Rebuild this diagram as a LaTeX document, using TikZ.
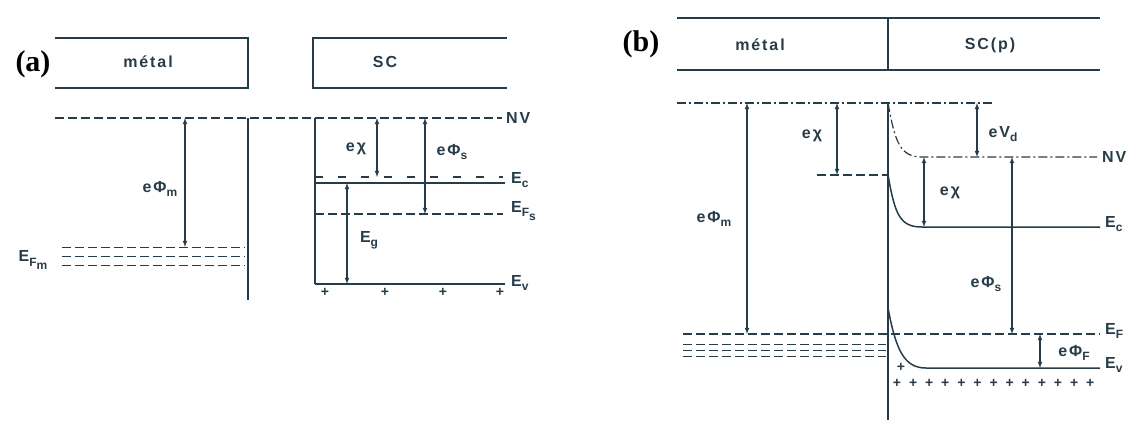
\documentclass[tikz,border=0pt]{standalone}
\usepackage{fontspec}
\setmainfont{Liberation Serif}
\newfontfamily\labfont[LetterSpace=12]{Liberation Sans}
\usetikzlibrary{arrows,positioning}
\definecolor{ink}{RGB}{38,60,72}
\newcommand{\sub}[1]{\raisebox{-.5ex}{\fontsize{12}{13}\selectfont #1}}

\begin{document}
\begin{tikzpicture}[x=1pt,y=-1pt,line width=1.5pt,draw=ink,text=ink,
  font=\labfont\bfseries\fontsize{16}{18}\selectfont,
  lvl/.style={dash pattern=on 9pt off 4pt,line width=1.2pt},
  sparse/.style={dash pattern=on 8pt off 15pt,line width=1.2pt},
  dashdot/.style={dash pattern=on 9pt off 3pt on 2pt off 3pt,line width=1.2pt},
  gap/.style={latex-latex,line width=1.1pt},
  plus/.style={font=\labfont\bfseries\fontsize{14}{14}\selectfont,inner sep=0pt},
  tag/.style={font=\bfseries\rmfamily\fontsize{30}{32}\selectfont,text=black}]
 \useasboundingbox (0,0) rectangle (1133,423);

 %%% (a)
 \node[tag] (taga) at (33,64) {(a)};
 % boxes
 \draw (55,38) -- (248,38) -- (248,88) -- (55,88);
 \draw (507,38) -- (313,38) -- (313,88) -- (507,88);
 \node (meta) at (148,62) {métal};
 \node (sca) at (385,62) {SC};

 % coordinates
 \coordinate (nv0) at (55,118);  \coordinate (nv1) at (502,118);
 \coordinate (ec0) at (315,183); \coordinate (ec1) at (505,183);
 \coordinate (cb0) at (315,177); \coordinate (cb1) at (503,177);
 \coordinate (fs0) at (315,214); \coordinate (fs1) at (503,214);
 \coordinate (ev0) at (315,284); \coordinate (ev1) at (505,284);
 \coordinate (pm0) at (185,118); \coordinate (pm1) at (185,247);
 \coordinate (xa0) at (377,118); \coordinate (xa1) at (377,177);
 \coordinate (ps0) at (425,118); \coordinate (ps1) at (425,214);
 \coordinate (eg0) at (347,183); \coordinate (eg1) at (347,284);

 % levels
 \draw[lvl] (nv0) -- (nv1);
 \draw (248,118) -- (248,300);
 \draw (315,118) -- (ev0);
 \draw[sparse] (cb0) -- (cb1);
 \draw (ec0) -- (ec1);
 \draw[lvl] (fs0) -- (fs1);
 \draw (ev0) -- (ev1);
 \foreach \y in {247,256,265} {
  \draw[lvl,line width=1pt] (62,\y) -- (245,\y);
 }
 \foreach \x in {325,385,443,500} {
  \node[plus] at (\x,292) {+};
 }

 % labels
 \node[right=0pt of nv1] (lnva) {NV};
 \node[right=2pt of ec1,yshift=3pt] (leca) {E\sub{c}};
 \node[right=4pt of fs1,yshift=3pt] (lfsa) {E\sub{F\sub{s}}};
 \node[right=2pt of ev1,yshift=1pt] (leva) {E\sub{v}};
 \node (lfma) at (33,260) {E\sub{F\sub{m}}};

 % arrows
 \draw[gap] (pm0) -- (pm1);
 \draw[gap] (xa0) -- (xa1);
 \draw[gap] (ps0) -- (ps1);
 \draw[gap] (eg0) -- (eg1);
 \node (lpma) at (160,189) {eΦ\sub{m}};
 \node (lxa) at (356,149) {eχ};
 \node (lpsa) at (452,152) {eΦ\sub{s}};
 \node (lega) at (369,240) {E\sub{g}};

 %%% (b)
 \node[tag] (tagb) at (641,44) {(b)};
 \draw (677,18) -- (1100,18);
 \draw[line width=1.2pt] (677,70) -- (1100,70);
 \draw (888,18) -- (888,70);
 \node (metb) at (760,45) {métal};
 \node (scb) at (990,45) {SC(p)};

 % coordinates
 \coordinate (vm0) at (677,103); \coordinate (vm1) at (993,103);
 \coordinate (nvb) at (1097,157);
 \coordinate (ecb) at (1100,227);
 \coordinate (efb0) at (683,334); \coordinate (efb1) at (1100,334);
 \coordinate (evb) at (1100,368);
 \coordinate (bm0) at (747,103);  \coordinate (bm1) at (747,334);
 \coordinate (bx0) at (837,103);  \coordinate (bx1) at (837,175);
 \coordinate (vd0) at (977,103);  \coordinate (vd1) at (977,157);
 \coordinate (cx0) at (924,157);  \coordinate (cx1) at (924,227);
 \coordinate (bs0) at (1012,157); \coordinate (bs1) at (1012,334);
 \coordinate (bf0) at (1040,334); \coordinate (bf1) at (1040,368);

 % levels
 \draw[dashdot] (vm0) -- (vm1);
 \draw (888,103) -- (888,420);
 \draw[dashdot] (888,103) .. controls (895,142) and (900,157) .. (922,157) -- (nvb);
 \draw[lvl] (817,175) -- (888,175);
 \draw (888,175) .. controls (895,215) and (900,227) .. (922,227) -- (ecb);
 \draw (888,308) .. controls (896,350) and (904,368) .. (926,368) -- (evb);
 \draw[lvl] (efb0) -- (efb1);
 \foreach \y in {344,350,356} {
  \draw[lvl,line width=1pt] (683,\y) -- (886,\y);
 }
 \node[plus] at (901,367) {+};
 \foreach \i in {0,...,12} {
  \node[plus] at (897+16.1*\i,383) {+};
 }

 % labels
 \node[right=1pt of nvb] (lnvb) {NV};
 \node[right=1pt of ecb,yshift=3pt] (lecb) {E\sub{c}};
 \node[right=1pt of efb1,yshift=3pt] (lefb) {E\sub{F}};
 \node[right=1pt of evb,yshift=3pt] (levb) {E\sub{v}};

 % arrows
 \draw[gap] (bm0) -- (bm1);
 \draw[gap] (bx0) -- (bx1);
 \draw[gap] (vd0) -- (vd1);
 \draw[gap] (cx0) -- (cx1);
 \draw[gap] (bs0) -- (bs1);
 \draw[gap] (bf0) -- (bf1);
 \node (lpmb) at (714,219) {eΦ\sub{m}};
 \node (lxb1) at (812,136) {eχ};
 \node (lvdb) at (1003,134) {eV\sub{d}};
 \node (lxb2) at (950,193) {eχ};
 \node (lpsb) at (986,284) {eΦ\sub{s}};
 \node (lpfb) at (1074,353) {eΦ\sub{F}};
\end{tikzpicture}
\end{document}
